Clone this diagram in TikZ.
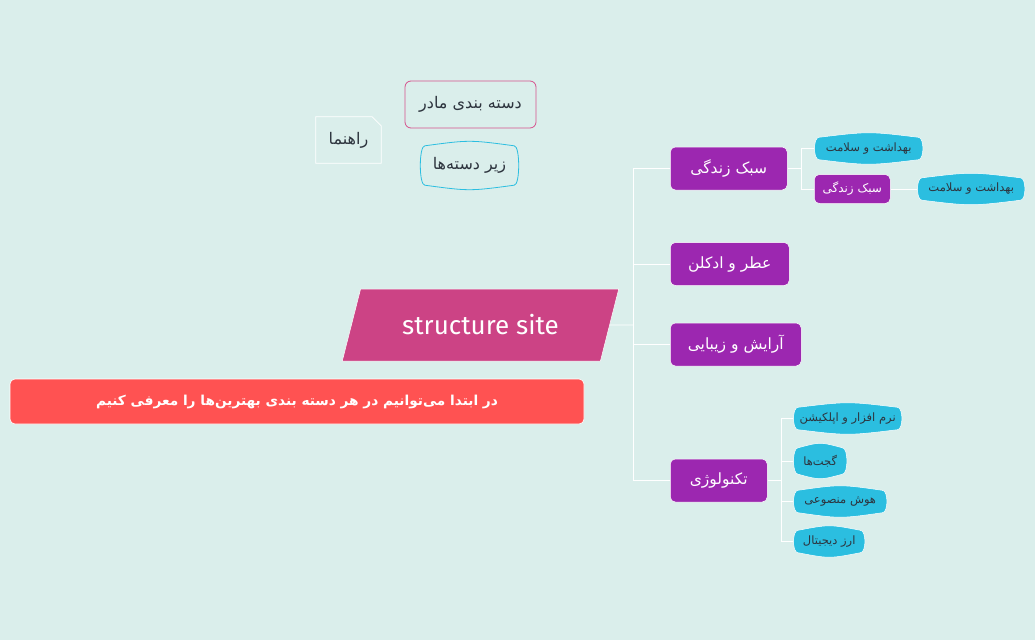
\documentclass[tikz,border=0pt]{standalone}
\usepackage{fontspec}
\setmainfont{DejaVu Sans}
\newfontfamily\arabicfont[Script=Arabic]{DejaVu Sans}
\newfontfamily\titlefont{Fira Sans}
\TeXXeTstate=1
\usetikzlibrary{positioning,shapes.geometric,calc}
\definecolor{bgteal}{RGB}{218,238,235}
\definecolor{mmpurple}{RGB}{156,39,176}
\definecolor{mmcyan}{RGB}{43,190,224}
\definecolor{mmpink}{RGB}{204,67,133}
\definecolor{mmred}{RGB}{255,82,82}
\definecolor{mmrose}{RGB}{214,80,140}
\definecolor{mmtext}{RGB}{45,52,62}
\pgfdeclarelayer{back}
\pgfsetlayers{back,main}
\newcommand{\fa}[1]{\arabicfont\beginR #1\endR}
% outline with bulging top and bottom edges, drawn round a node
\newcommand{\bulge}[2]{%
  \path[#2] ([xshift=5pt]#1.north west) .. controls ([yshift=6pt]#1.north) .. ([xshift=-5pt]#1.north east)
    .. controls ([xshift=1pt]#1.north east) and ([xshift=1pt]#1.south east) .. ([xshift=-5pt]#1.south east)
    .. controls ([yshift=-6pt]#1.south) .. ([xshift=5pt]#1.south west)
    .. controls ([xshift=-1pt]#1.south west) and ([xshift=-1pt]#1.north west) .. cycle;}

\begin{document}
\begin{tikzpicture}[x=1pt, y=-1pt,
  every node/.style={align=center, inner sep=3pt},
  topic/.style={draw=white, line width=0.5pt, fill=mmpurple, text=white, rounded corners=5pt,
                minimum height=43pt, anchor=west, font=\fontsize{15.5}{18}\selectfont},
  subtopic/.style={topic, minimum height=29pt, font=\fontsize{12}{14}\selectfont},
  leaf/.style={text=mmtext, minimum height=22pt, anchor=west, inner sep=1pt, font=\fontsize{11.5}{13}\selectfont},
  legend/.style={text=mmtext, font=\fontsize{16}{18}\selectfont},
  link/.style={draw=white, line width=0.8pt},
]
\useasboundingbox (0,0) rectangle (1035,640);

% Root and intro banner
\node[trapezium, trapezium left angle=65, trapezium right angle=115, trapezium stretches,
      draw=white, line width=0.5pt, fill=mmpink, text=white, minimum width=277pt, minimum height=72pt,
      font=\titlefont\fontsize{26}{30}\selectfont]
      (root) at (480.5,325) {structure site};
\node[draw=white, line width=0.6pt, fill=mmred, text=white, rounded corners=5pt,
      minimum width=574pt, minimum height=45pt, font=\bfseries\fontsize{13.7}{16}\selectfont]
      (intro) at (297,401.5) {\fa{در ابتدا می‌توانیم در هر دسته بندی بهترین‌ها را معرفی کنیم}};

% Legend
\node[legend, draw=mmrose, line width=0.8pt, rounded corners=6pt, minimum width=131pt, minimum height=47pt]
      (parent) at (470.5,104.5) {\fa{دسته بندی مادر}};
\node[legend, minimum width=65pt, minimum height=46pt]
      (guide) at (348.5,140) {\fa{راهنما}};
\node[legend, minimum width=99pt, minimum height=39pt]
      (child) at (469.5,165.5) {\fa{زیر دسته‌ها}};
\draw[white, line width=0.8pt] (guide.south west) -- (guide.north west) -- ([xshift=-9pt]guide.north east)
      -- ([yshift=-9pt]guide.north east) -- (guide.south east) -- cycle;

% Main topics
\node[topic, minimum width=117pt] (life) at (670,168.5) {\fa{سبک زندگی}};
\node[topic, minimum width=119pt] (perfume) at (670,264) {\fa{عطر و ادکلن}};
\node[topic, minimum width=131pt] (beauty) at (670,344.5) {\fa{آرایش و زیبایی}};
\node[topic, minimum width=97pt] (tech) at (670,480.5) {\fa{تکنولوژی}};

% Life style branch
\node[leaf, minimum width=109pt] (health) at (814,148.5) {\fa{بهداشت و سلامت}};
\node[subtopic, minimum width=76pt] (lifesub) at (814,189) {\fa{سبک زندگی}};
\node[leaf, minimum width=108pt] (health2) at (917,189) {\fa{بهداشت و سلامت}};

% Technology branch
\node[leaf, minimum width=109pt] (apps) at (793,418.5) {\fa{نرم افزار و اپلکیشن}};
\node[leaf, minimum width=54pt, minimum height=26pt] (gadgets) at (793,461) {\fa{گجت‌ها}};
\node[leaf, minimum width=94pt] (ai) at (793,501.5) {\fa{هوش منصوعی}};
\node[leaf, minimum width=72pt] (crypto) at (793,541.5) {\fa{ارز دیجیتال}};

\coordinate (fork) at (633,325);
\coordinate (lifefork) at (801,168.5);
\coordinate (techfork) at (781,480.5);

\begin{pgfonlayer}{back}
\fill[bgteal] (0,0) rectangle (1035,640);
% Connectors
\draw[link] (root.east) -- (fork);
\foreach \t in {life,perfume,beauty,tech}
  \draw[link] (fork) |- (\t.west);
\draw[link] (life.east) -- (lifefork);
\draw[link] (lifefork) |- (health.west);
\draw[link] (lifefork) |- (lifesub.west);
\draw[link] (lifesub.east) -- (health2.west);
\draw[link] (tech.east) -- (techfork);
\foreach \t in {apps,gadgets,ai,crypto}
  \draw[link] (techfork) |- (\t.west);
% Leaf outlines
\foreach \t in {health,health2,apps,gadgets,ai,crypto}
  \bulge{\t}{fill=mmcyan, draw=white, line width=0.5pt};
\bulge{child}{draw=mmcyan, line width=0.8pt}
\end{pgfonlayer}

\end{tikzpicture}
\end{document}
